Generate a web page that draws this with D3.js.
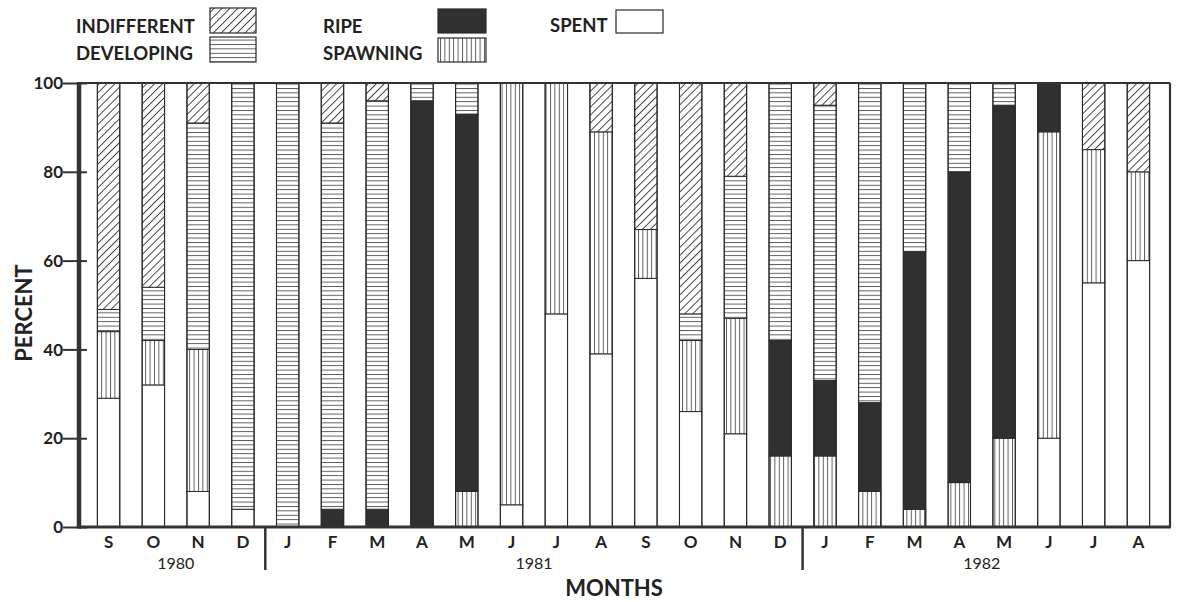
<!DOCTYPE html>
<html>
<head>
<meta charset="utf-8">
<script src="https://cdn.jsdelivr.net/npm/d3@7"></script>
<style>
  html, body { margin: 0; padding: 0; background: #ffffff; }
  svg { display: block; }
  text { font-family: Lato, "Open Sans", sans-serif; fill: #222; }
</style>
</head>
<body>
<script>
// ---- data ----
const months = ["S","O","N","D","J","F","M","A","M","J","J","A","S","O","N","D","J","F","M","A","M","J","J","A"];
const spent       = [29,32, 8, 4,  0, 0, 0, 0, 0, 5,48,39,56,26,21, 0,  0, 0, 0, 0, 0,20,55,60];
const spawning    = [15,10,32, 0,  0, 0, 0, 0, 8,95,52,50,11,16,26,16, 16, 8, 4,10,20,69,30,20];
const ripe        = [ 0, 0, 0, 0,  0, 4, 4,96,85, 0, 0, 0, 0, 0, 0,26, 17,20,58,70,75,11, 0, 0];
const developing  = [ 5,12,51,96,100,87,92, 4, 7, 0, 0, 0, 0, 6,32,58, 62,72,38,20, 5, 0, 0, 0];
const indifferent = [51,46, 9, 0,  0, 9, 4, 0, 0, 0, 0,11,33,52,21, 0,  5, 0, 0, 0, 0, 0,15,20];
const yearLabels  = ["1980","1981","1982"];
const yearStart   = [0, 4, 16];
const yearEnd     = [3, 15, 23];
const yTicks      = [0,20,40,60,80,100];
const seriesKeys  = ["spent","spawning","ripe","developing","indifferent"];
const legendLabels = ["INDIFFERENT","DEVELOPING","RIPE","SPAWNING","SPENT"];

const W = 1179, H = 602;
const svg = d3.select("body").append("svg").attr("width", W).attr("height", H);

// ---- patterns ----
const defs = svg.append("defs");
const ink = "#2a2a2a";
const pd = defs.append("pattern").attr("id","p-diag").attr("patternUnits","userSpaceOnUse")
  .attr("width",5.6).attr("height",10).attr("patternTransform","rotate(45)");
pd.append("rect").attr("width",5.6).attr("height",10).attr("fill","#fff");
pd.append("line").attr("x1",0.5).attr("x2",0.5).attr("y1",0).attr("y2",10).attr("stroke",ink).attr("stroke-width",0.9);
const ph = defs.append("pattern").attr("id","p-horz").attr("patternUnits","userSpaceOnUse")
  .attr("width",10).attr("height",4.4);
ph.append("rect").attr("width",10).attr("height",4.4).attr("fill","#fff");
ph.append("line").attr("x1",0).attr("x2",10).attr("y1",0.5).attr("y2",0.5).attr("stroke",ink).attr("stroke-width",0.8);
const pv = defs.append("pattern").attr("id","p-vert").attr("patternUnits","userSpaceOnUse")
  .attr("width",4.4).attr("height",10);
pv.append("rect").attr("width",4.4).attr("height",10).attr("fill","#fff");
pv.append("line").attr("x1",0.5).attr("x2",0.5).attr("y1",0).attr("y2",10).attr("stroke",ink).attr("stroke-width",0.8);

const fills = {
  spent: "#ffffff",
  spawning: "url(#p-vert)",
  ripe: "#303030",
  developing: "url(#p-horz)",
  indifferent: "url(#p-diag)"
};

// ---- scales ----
const idx = months.map((m,i) => i);
const x = d3.scaleBand().domain(idx).range([75, 1172]).paddingInner(0.5).paddingOuter(0.5);
const y = d3.scaleLinear().domain([0,100]).range([527, 83]);

const rows = idx.map(i => ({
  i, spent: spent[i], spawning: spawning[i], ripe: ripe[i],
  developing: developing[i], indifferent: indifferent[i]
}));
const stacked = d3.stack().keys(seriesKeys)(rows);

// ---- bars ----
const gBars = svg.append("g");
stacked.forEach(layer => {
  gBars.append("g").selectAll("rect")
    .data(layer.filter(d => d[1] - d[0] > 0))
    .join("rect")
    .attr("x", d => x(d.data.i))
    .attr("width", x.bandwidth())
    .attr("y", d => y(d[1]))
    .attr("height", d => y(d[0]) - y(d[1]))
    .attr("fill", fills[layer.key])
    .attr("stroke", ink)
    .attr("stroke-width", 1);
});
// full bar outlines
gBars.append("g").selectAll("rect").data(rows).join("rect")
  .attr("x", d => x(d.i)).attr("width", x.bandwidth())
  .attr("y", y(100)).attr("height", y(0) - y(100))
  .attr("fill", "none").attr("stroke", ink).attr("stroke-width", 1.1);

// ---- frame ----
const xL = 79, xR = 1170;
svg.append("line").attr("x1", xL).attr("x2", xR).attr("y1", y(100)).attr("y2", y(100))
  .attr("stroke", "#333").attr("stroke-width", 2);
svg.append("line").attr("x1", xR).attr("x2", xR).attr("y1", y(100)).attr("y2", y(0))
  .attr("stroke", "#333").attr("stroke-width", 2.2);
svg.append("line").attr("x1", xL).attr("x2", xR + 1).attr("y1", y(0)).attr("y2", y(0))
  .attr("stroke", "#333").attr("stroke-width", 3);
svg.append("line").attr("x1", xL).attr("x2", xL).attr("y1", y(100) - 1).attr("y2", y(0) + 1.5)
  .attr("stroke", "#333").attr("stroke-width", 4.5);

// ---- y axis ticks ----
const yAxis = d3.axisLeft(y).tickValues(yTicks).tickSize(0).tickPadding(0);
const gy = svg.append("g").attr("transform", `translate(${xL},0)`).call(yAxis);
gy.select(".domain").remove();
gy.selectAll(".tick line").remove();
gy.selectAll(".tick").append("line")
  .attr("x1", -16).attr("x2", 8).attr("stroke", "#333").attr("stroke-width", 2);
gy.selectAll(".tick text")
  .attr("x", -16).attr("dy", "0.34em")
  .style("font-family", "Lato, sans-serif").style("font-size", "17px").style("font-weight", "700")
  .attr("fill", "#222");

svg.append("text").attr("transform", "translate(32,313) rotate(-90)")
  .attr("text-anchor", "middle").style("font-size", "22px").style("font-weight", "700")
  .text("PERCENT");

// ---- x axis labels ----
const xAxis = d3.axisBottom(x).tickSize(0).tickPadding(0).tickFormat(i => months[i]);
const gx = svg.append("g").attr("transform", `translate(0,${y(0)})`).call(xAxis);
gx.select(".domain").remove();
gx.selectAll(".tick text").attr("y", 21).attr("dy", 0)
  .style("font-family", "Lato, sans-serif").style("font-size", "17px").style("font-weight", "700")
  .attr("fill", "#222");

// year labels and separators
const center = i => x(i) + x.bandwidth() / 2;
yearLabels.forEach((lab, k) => {
  const cx = (center(yearStart[k]) + center(yearEnd[k])) / 2;
  svg.append("text").attr("x", cx).attr("y", 569).attr("text-anchor", "middle")
    .style("font-size", "16px").style("font-weight", "400").text(lab);
  if (k > 0) {
    const sx = (x(yearEnd[k-1]) + x.bandwidth() + x(yearStart[k])) / 2;
    svg.append("line").attr("x1", sx).attr("x2", sx).attr("y1", y(0)).attr("y2", 570)
      .attr("stroke", "#333").attr("stroke-width", 2.5);
  }
});

svg.append("text").attr("x", 614).attr("y", 596).attr("text-anchor", "middle")
  .style("font-size", "22px").style("font-weight", "700").text("MONTHS");

// ---- legend ----
const legendItems = [
  {key:"indifferent", label:legendLabels[0], tx:76,  ty:33,   bx:210, by:8,  bw:46, bh:25},
  {key:"developing",  label:legendLabels[1], tx:76,  ty:60,   bx:210, by:37, bw:46, bh:25},
  {key:"ripe",        label:legendLabels[2], tx:323, ty:33,   bx:438, by:9,  bw:48, bh:24},
  {key:"spawning",    label:legendLabels[3], tx:323, ty:60,   bx:438, by:38, bw:48, bh:24},
  {key:"spent",       label:legendLabels[4], tx:550, ty:32,   bx:616, by:10, bw:47, bh:23}
];
const gl = svg.append("g");
legendItems.forEach(it => {
  gl.append("text").attr("x", it.tx).attr("y", it.ty)
    .style("font-size", "18.5px").style("font-weight", "700").text(it.label);
  gl.append("rect").attr("x", it.bx).attr("y", it.by).attr("width", it.bw).attr("height", it.bh)
    .attr("fill", fills[it.key]).attr("stroke", ink).attr("stroke-width", 1.2);
});
</script>
</body>
</html>
